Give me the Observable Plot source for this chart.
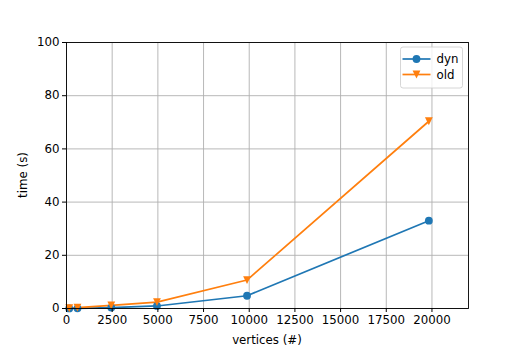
<!DOCTYPE html>
<html>
<head>
<meta charset="utf-8">
<script src="https://cdn.jsdelivr.net/npm/d3@7"></script>
<script src="https://cdn.jsdelivr.net/npm/@observablehq/plot@0.6"></script>
<style>
  body { margin: 0; background: #fff; }
  svg { font-family: "DejaVu Sans", sans-serif; }
</style>
</head>
<body>
<div id="chart"></div>
<script>
const vertices = [150, 600, 2450, 4950, 9880, 19830];
const dynTimes = [0.02, 0.08, 0.35, 0.95, 4.8, 33.0];
const oldTimes = [0.1, 0.3, 1.2, 2.4, 10.7, 70.4];
const seriesNames = ["dyn", "old"];
const seriesColors = ["#1f77b4", "#ff7f0e"];
const xTicks = [0, 2500, 5000, 7500, 10000, 12500, 15000, 17500, 20000];
const yTicks = [0, 20, 40, 60, 80, 100];

const dyn = vertices.map((v, i) => ({x: v, y: dynTimes[i], s: "dyn"}));
const old = vertices.map((v, i) => ({x: v, y: oldTimes[i], s: "old"}));

const triangleDown = {
  draw(context, size) {
    const r = Math.sqrt(size / Math.PI);
    context.moveTo(0, r);
    context.lineTo(-r, -r);
    context.lineTo(r, -r);
    context.closePath();
  }
};

const fs = 11.8;
const mr = 3.9;
const chart = Plot.plot({
  width: 521,
  height: 349,
  marginLeft: 66,
  marginRight: 53,
  marginTop: 42,
  marginBottom: 41,
  style: {fontFamily: "DejaVu Sans, sans-serif", fontSize: fs + "px", background: "#fff", overflow: "visible"},
  x: {domain: [0, 22000]},
  y: {domain: [0, 100]},
  marks: [
    Plot.gridX(xTicks, {stroke: "#b0b0b0", strokeOpacity: 1, strokeWidth: 0.9}),
    Plot.gridY(yTicks, {stroke: "#b0b0b0", strokeOpacity: 1, strokeWidth: 0.9}),
    Plot.line(dyn, {x: "x", y: "y", stroke: seriesColors[0], strokeWidth: 1.7}),
    Plot.line(old, {x: "x", y: "y", stroke: seriesColors[1], strokeWidth: 1.7}),
    Plot.dot(dyn, {x: "x", y: "y", r: mr, fill: seriesColors[0], symbol: "circle"}),
    Plot.dot(old, {x: "x", y: "y", r: mr, fill: seriesColors[1], symbol: triangleDown}),
    Plot.frame({stroke: "#000", strokeWidth: 0.9}),
    Plot.axisX(xTicks, {tickSize: 4, tickPadding: 3, tickFormat: d => String(d), fontSize: fs, label: null}),
    Plot.axisY(yTicks, {tickSize: 4, tickPadding: 3, tickFormat: d => String(d), fontSize: fs, label: null})
  ]
});

const svg = d3.select(chart);
svg.selectAll("g[aria-label='x-axis tick'] path, g[aria-label='y-axis tick'] path").attr("stroke", "#000");
svg.selectAll("g[aria-label='x-axis tick label'], g[aria-label='y-axis tick label']").attr("fill", "#000");

// axis titles
svg.append("text")
  .attr("x", (66 + 468) / 2).attr("y", 344)
  .attr("text-anchor", "middle").attr("font-size", fs).attr("fill", "#000")
  .text("vertices (#)");
svg.append("text")
  .attr("transform", "translate(27,175) rotate(-90)")
  .attr("text-anchor", "middle").attr("font-size", fs).attr("fill", "#000")
  .text("time (s)");

// legend
const lg = svg.append("g").attr("transform", "translate(400.5,47)");
lg.append("rect").attr("x", 0).attr("y", 0).attr("width", 62).attr("height", 41)
  .attr("rx", 2.5).attr("fill", "#fff").attr("fill-opacity", 0.8)
  .attr("stroke", "#cccccc").attr("stroke-width", 0.8);
const symbols = [d3.symbol(d3.symbolCircle, Math.PI * mr * mr), d3.symbol(triangleDown, Math.PI * mr * mr)];
seriesNames.forEach((name, i) => {
  const cy = 12 + i * 15.5;
  lg.append("line").attr("x1", 2).attr("x2", 30).attr("y1", cy).attr("y2", cy)
    .attr("stroke", seriesColors[i]).attr("stroke-width", 1.7);
  lg.append("path").attr("d", symbols[i]()).attr("transform", `translate(16,${cy})`)
    .attr("fill", seriesColors[i]);
  lg.append("text").attr("x", 36).attr("y", cy).attr("dy", "0.35em")
    .attr("text-anchor", "start")
    .attr("font-size", fs).attr("fill", "#000").text(name);
});

document.getElementById("chart").appendChild(chart);
</script>
</body>
</html>
